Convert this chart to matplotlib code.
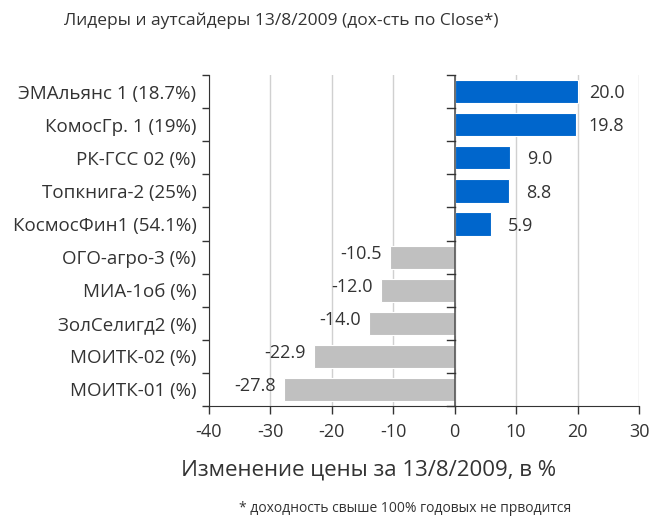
import numpy as np
import matplotlib.pyplot as plt

plt.rcParams['font.family'] = ['Open Sans', 'DejaVu Sans']
plt.rcParams['axes.unicode_minus'] = False

# Данные
labels = ['ЭМАльянс 1 (18.7%)', 'КомосГр. 1 (19%)', 'РК-ГСС 02 (%)',
          'Топкнига-2 (25%)', 'КосмосФин1 (54.1%)', 'ОГО-агро-3 (%)',
          'МИА-1об (%)', 'ЗолСелигд2 (%)', 'МОИТК-02 (%)', 'МОИТК-01 (%)']
values = [20.0, 19.8, 9.0, 8.8, 5.9, -10.5, -12.0, -14.0, -22.9, -27.8]

blue = '#0066cc'
grey = '#c0c0c0'
txt = '#333333'

fig = plt.figure(figsize=(6.53, 5.18), dpi=100)
ax = fig.add_axes([0.320, 0.2162, 0.6586, 0.6388])

y = np.arange(len(labels))
colors = [blue if v > 0 else grey for v in values]
ax.barh(y, values, height=0.7, color=colors, edgecolor='white', linewidth=0.8, zorder=3)

for yi, v in zip(y, values):
    if v > 0:
        ax.text(v + 4.8, yi + 0.05, f'{v:.1f}', ha='center', va='center', fontsize=13, color=txt)
    else:
        ax.text(v - 1.3, yi - 0.1, f'{v:.1f}', ha='right', va='center', fontsize=13, color=txt)

ax.set_xlim(-40, 30)
ax.set_ylim(len(labels) - 0.5, -0.5)
ax.set_xticks(np.arange(-40, 31, 10))
ax.set_yticks(y)
ax.set_yticklabels(labels)
ax.set_yticks(np.arange(-0.5, len(labels), 1), minor=True)

ax.tick_params(axis='y', which='major', length=0, pad=9, labelsize=13.5, labelcolor=txt)
ax.tick_params(axis='y', which='minor', length=5, width=1, color='#333333')
ax.tick_params(axis='x', length=6, width=1, color='#333333', labelsize=13, labelcolor=txt, pad=6)

ax.grid(axis='x', color='#d0d0d0', linewidth=1, zorder=0)
ax.axvline(0, color='#555555', linewidth=1.2, zorder=4)
# засечки на нулевой оси
for b in np.arange(-0.5, len(labels), 1):
    ax.plot([-1.2, 0], [b, b], color='#333333', linewidth=1, zorder=4, clip_on=False)

for s in ['top', 'right']:
    ax.spines[s].set_visible(False)
ax.spines['left'].set_color('#333333')
ax.spines['bottom'].set_color('#333333')

fig.text(0.431, 0.96, 'Лидеры и аутсайдеры 13/8/2009 (дох-сть по Close*)',
         ha='center', va='center', fontsize=12.5, color=txt)
fig.text(0.565, 0.092, 'Изменение цены за 13/8/2009, в %',
         ha='center', va='center', fontsize=16, color=txt)
fig.text(0.62, 0.018, '* доходность свыше 100% годовых не прводится',
         ha='center', va='center', fontsize=10, color=txt)

plt.savefig('out.png', dpi=100)
